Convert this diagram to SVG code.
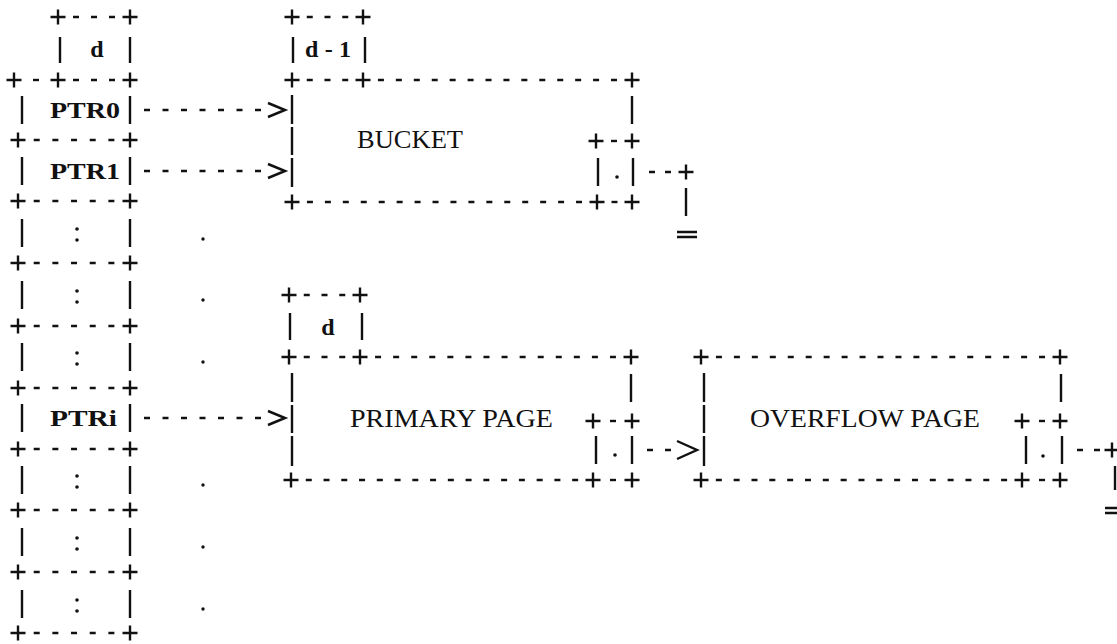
<svg xmlns="http://www.w3.org/2000/svg" xmlns:xlink="http://www.w3.org/1999/xlink" width="1117" height="644" viewBox="0 0 1117 644">
<style>
.ln{stroke:#111;stroke-width:2.4;fill:none}
.ds{stroke:#111;stroke-width:2.4;fill:none}
.dt{fill:#111}
.t{font-family:"Liberation Serif","Times New Roman",serif;fill:#111;font-size:25px}
.b{font-weight:bold;font-size:24px}
</style>
<defs>
<path id="p" d="M-7.5,0H7.5M0,-7.5V7.5" stroke="#111" stroke-width="2.4" fill="none"/>
<path id="gt" d="M-17,-7L0,0L-17,7" stroke="#111" stroke-width="2.5" fill="none" stroke-linejoin="miter"/>
</defs>
<rect width="1117" height="644" fill="#fff"/>

<g id="pointer-table">
  <use href="#p" x="58" y="17"/><use href="#p" x="130" y="17"/>
  <line class="ds" x1="73" y1="17" x2="115" y2="17" stroke-dasharray="6 12"/>
  <path class="ln" d="M60,37V63M130,37V63"/>
  <text class="t b" x="97" y="57" text-anchor="middle">d</text>
  <use href="#p" x="14" y="80"/><use href="#p" x="58" y="80"/><use href="#p" x="130" y="80"/>
  <path class="ln" d="M33,80H39"/>
  <line class="ds" x1="73" y1="80" x2="115" y2="80" stroke-dasharray="6 12"/>
  <g class="ln">
    <path d="M22,96V124M130,96V124M22,157V185M130,157V185M22,219V247M130,219V247M22,281V309M130,281V309M22,343V371M130,343V371M22,404V432M130,404V432M22,466V494M130,466V494M22,528V556M130,528V556M22,590V618M130,590V618"/>
  </g>
  <g>
    <use href="#p" x="18" y="140"/><use href="#p" x="130" y="140"/>
    <use href="#p" x="18" y="201"/><use href="#p" x="130" y="201"/>
    <use href="#p" x="18" y="263"/><use href="#p" x="130" y="263"/>
    <use href="#p" x="18" y="326"/><use href="#p" x="130" y="326"/>
    <use href="#p" x="18" y="388"/><use href="#p" x="130" y="388"/>
    <use href="#p" x="18" y="449"/><use href="#p" x="130" y="449"/>
    <use href="#p" x="18" y="510"/><use href="#p" x="130" y="510"/>
    <use href="#p" x="18" y="572"/><use href="#p" x="130" y="572"/>
    <use href="#p" x="18" y="633"/><use href="#p" x="130" y="633"/>
  </g>
  <g class="ds" stroke-dasharray="6 12.67">
    <line x1="33.7" y1="140" x2="115.3" y2="140"/>
    <line x1="33.7" y1="201" x2="115.3" y2="201"/>
    <line x1="33.7" y1="263" x2="115.3" y2="263"/>
    <line x1="33.7" y1="326" x2="115.3" y2="326"/>
    <line x1="33.7" y1="388" x2="115.3" y2="388"/>
    <line x1="33.7" y1="449" x2="115.3" y2="449"/>
    <line x1="33.7" y1="510" x2="115.3" y2="510"/>
    <line x1="33.7" y1="572" x2="115.3" y2="572"/>
    <line x1="33.7" y1="633" x2="115.3" y2="633"/>
  </g>
  <text class="t b" x="50" y="118" textLength="70" lengthAdjust="spacingAndGlyphs">PTR0</text>
  <text class="t b" x="50" y="179" textLength="70" lengthAdjust="spacingAndGlyphs">PTR1</text>
  <text class="t b" x="50" y="426" textLength="67" lengthAdjust="spacingAndGlyphs">PTRi</text>
  <g class="dt">
    <circle cx="77" cy="229" r="1.8"/><circle cx="77" cy="240" r="1.8"/>
    <circle cx="77" cy="291" r="1.8"/><circle cx="77" cy="302" r="1.8"/>
    <circle cx="77" cy="353" r="1.8"/><circle cx="77" cy="364" r="1.8"/>
    <circle cx="77" cy="476" r="1.8"/><circle cx="77" cy="487" r="1.8"/>
    <circle cx="77" cy="538" r="1.8"/><circle cx="77" cy="549" r="1.8"/>
    <circle cx="77" cy="600" r="1.8"/><circle cx="77" cy="611" r="1.8"/>
  </g>
  <g class="dt">
    <circle cx="203" cy="239" r="1.7"/><circle cx="203" cy="300" r="1.7"/><circle cx="203" cy="362" r="1.7"/>
    <circle cx="203" cy="485" r="1.7"/><circle cx="203" cy="547" r="1.7"/><circle cx="203" cy="609" r="1.7"/>
  </g>
</g>

<g id="bucket">
  <use href="#p" x="292" y="17"/><use href="#p" x="363" y="17"/>
  <line class="ds" x1="306.75" y1="17" x2="348.25" y2="17" stroke-dasharray="6 11.75"/>
  <path class="ln" d="M293,37V63M365,37V63"/>
  <text class="t b" x="305" y="57" textLength="46" lengthAdjust="spacing">d-1</text>
  <use href="#p" x="292" y="80"/><use href="#p" x="363" y="80"/><use href="#p" x="632" y="80"/>
  <line class="ds" x1="306.75" y1="80" x2="348.25" y2="80" stroke-dasharray="6 11.75"/>
  <line class="ds" x1="377.93" y1="80" x2="617.07" y2="80" stroke-dasharray="6 11.93"/>
  <path class="ln" d="M292,95V124M292,127V155M292,158V187M632,96V124"/>
  <text class="t" x="357" y="148" textLength="106" lengthAdjust="spacingAndGlyphs">BUCKET</text>
  <use href="#p" x="596" y="141"/><use href="#p" x="632" y="141"/>
  <path class="ln" d="M611,141H617"/>
  <path class="ln" d="M598,158V186M633,158V186"/>
  <circle class="dt" cx="617" cy="177" r="1.8"/>
  <use href="#p" x="292" y="202"/><use href="#p" x="597" y="202"/><use href="#p" x="632" y="202"/>
  <line class="ds" x1="306.94" y1="202" x2="582.06" y2="202" stroke-dasharray="6 11.94"/>
  <path class="ln" d="M611.5,202H617.5"/>
</g>

<g id="primary-page">
  <use href="#p" x="289" y="295"/><use href="#p" x="360" y="295"/>
  <line class="ds" x1="303.75" y1="295" x2="345.25" y2="295" stroke-dasharray="6 11.75"/>
  <path class="ln" d="M290,313V340M362,313V340"/>
  <text class="t b" x="328" y="335" text-anchor="middle">d</text>
  <use href="#p" x="289" y="357"/><use href="#p" x="360" y="357"/><use href="#p" x="631" y="357"/>
  <line class="ds" x1="303.75" y1="357" x2="345.25" y2="357" stroke-dasharray="6 11.75"/>
  <line class="ds" x1="375.07" y1="357" x2="615.93" y2="357" stroke-dasharray="6 12.07"/>
  <path class="ln" d="M292,373V402M292,405V433M292,436V466M631,374V402"/>
  <text class="t" x="350" y="427" textLength="203" lengthAdjust="spacingAndGlyphs">PRIMARY PAGE</text>
  <use href="#p" x="593" y="421"/><use href="#p" x="632" y="421"/>
  <path class="ln" d="M610,421H616"/>
  <path class="ln" d="M596,436V464M632,436V464"/>
  <circle class="dt" cx="615" cy="455" r="1.8"/>
  <use href="#p" x="291" y="480"/><use href="#p" x="593" y="480"/><use href="#p" x="632" y="480"/>
  <line class="ds" x1="305.76" y1="480" x2="578.24" y2="480" stroke-dasharray="6 11.76"/>
  <path class="ln" d="M610,480H616"/>
</g>

<g id="overflow-page">
  <use href="#p" x="701" y="357"/><use href="#p" x="1060" y="357"/>
  <line class="ds" x1="715.95" y1="357" x2="1045.05" y2="357" stroke-dasharray="6 11.95"/>
  <path class="ln" d="M704,373V402M704,405V433M704,436V466M1061,374V402"/>
  <text class="t" x="750" y="427" textLength="230" lengthAdjust="spacingAndGlyphs">OVERFLOW PAGE</text>
  <use href="#p" x="1022" y="421"/><use href="#p" x="1060" y="421"/>
  <path class="ln" d="M1039,421H1045"/>
  <path class="ln" d="M1026,436V464M1062,436V464"/>
  <circle class="dt" cx="1043" cy="456" r="1.8"/>
  <use href="#p" x="701" y="480"/><use href="#p" x="1022" y="480"/><use href="#p" x="1060" y="480"/>
  <line class="ds" x1="715.83" y1="480" x2="1007.17" y2="480" stroke-dasharray="6 11.83"/>
  <path class="ln" d="M1039,480H1045"/>
</g>

<g id="connectors">
  <line class="ds" x1="144" y1="110" x2="261" y2="110" stroke-dasharray="6 12.5"/>
  <use href="#gt" x="285" y="110"/>
  <line class="ds" x1="144" y1="171" x2="261" y2="171" stroke-dasharray="6 12.5"/>
  <use href="#gt" x="285" y="171"/>
  <line class="ds" x1="144" y1="418" x2="261" y2="418" stroke-dasharray="6 12.5"/>
  <use href="#gt" x="285" y="418"/>
  <line class="ds" x1="647" y1="450" x2="671" y2="450" stroke-dasharray="6 12"/>
  <path class="ln" d="M677,441L697,450L677,459" stroke-width="2.5"/>
  <line class="ds" x1="649" y1="172" x2="671" y2="172" stroke-dasharray="6 10"/>
  <use href="#p" x="686" y="172"/>
  <path class="ln" d="M686,188V216"/>
  <path class="ln" d="M677,232H697M677,237H697" stroke-width="1.8"/>
  <line class="ds" x1="1077" y1="450" x2="1100" y2="450" stroke-dasharray="6 11"/>
  <use href="#p" x="1112" y="450"/>
  <path class="ln" d="M1115,466V490"/>
  <path class="ln" d="M1105,508H1117M1105,513H1117" stroke-width="1.8"/>
</g>
</svg>
